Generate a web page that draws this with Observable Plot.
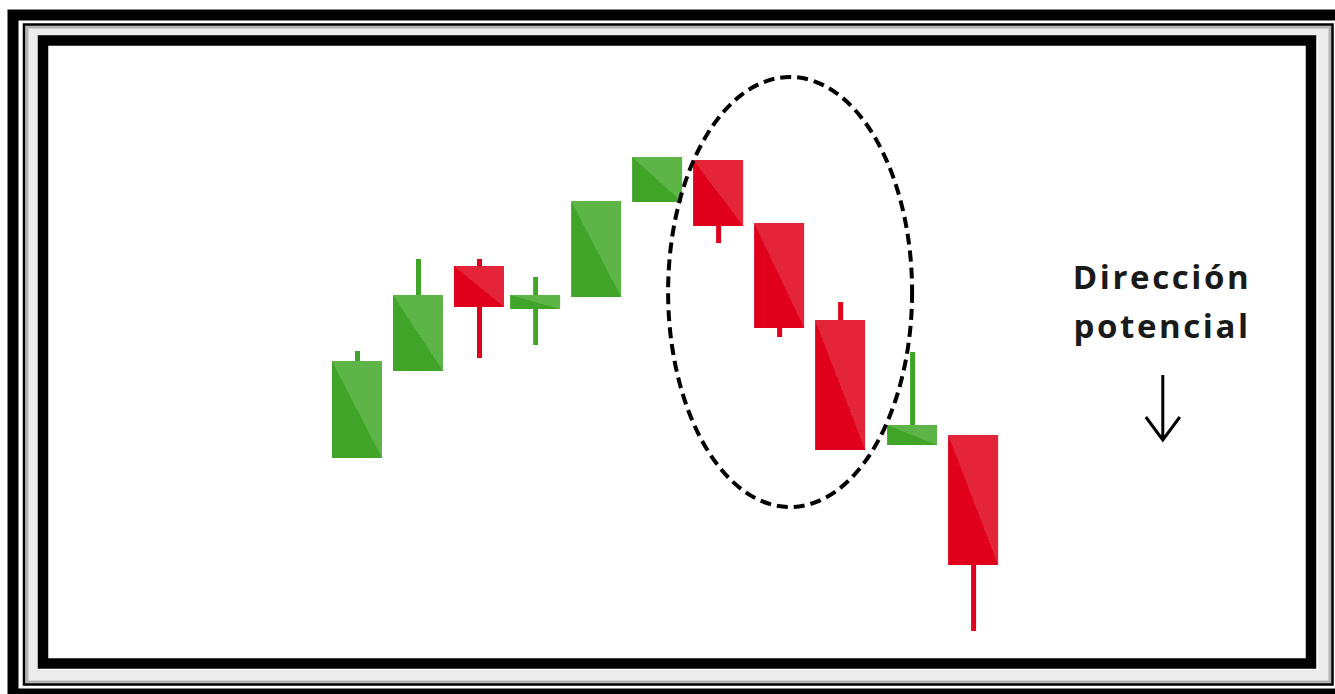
<!DOCTYPE html>
<html>
<head>
<meta charset="utf-8">
<script src="https://cdn.jsdelivr.net/npm/d3@7"></script>
<script src="https://cdn.jsdelivr.net/npm/@observablehq/plot@0.6"></script>
<style>
  html, body { margin: 0; padding: 0; background: #ffffff; }
  #chart svg { display: block; }
</style>
</head>
<body>
<div id="chart"></div>
<script>
// ---- data ----
const slots  = [0, 1, 2, 2.92, 3.92, 4.92, 5.92, 6.92, 7.92, 9.1, 10.1];
const opens  = [23.6, 32.3, 42.8, 38.5, 39.7, 49.2, 53.4, 47.1, 37.4, 24.9, 25.9];
const closes = [33.3, 39.9, 38.7, 39.9, 49.3, 53.7, 46.8, 36.6, 24.4, 26.9, 12.9];
const highs  = [34.3, 43.5, 43.5, 41.7, 49.3, 53.7, 53.4, 47.1, 39.2, 34.2, 25.9];
const lows   = [23.6, 32.3, 33.6, 34.9, 39.7, 49.2, 45.1, 35.7, 24.4, 24.9, 6.3];

const ringCenter = [7.1, 40.2];   // dashed ellipse centre (slot, price)
const ringRadius = [2.0, 21.5];   // dashed ellipse radii (slots, price)

const labelLines = ["Dirección", "potencial"];
const labelAt = [13.19, 44.1];
const arrowFrom = [13.21, 31.9];
const arrowTo = [13.21, 25.4];

// ---- build table ----
const candles = slots.map((x, i) => ({
  x, open: opens[i], close: closes[i], high: highs[i], low: lows[i],
  up: closes[i] >= opens[i]
}));
const ups = candles.filter(d => d.up);
const downs = candles.filter(d => !d.up);

const W = 1335, H = 694;
const half = 0.41;

const GREEN_DARK = "#40a428", GREEN_LIGHT = "#5db447";
const RED_DARK = "#e0001b", RED_LIGHT = "#e42439";

function ellipseMark(index, scales) {
  const {x, y} = scales;
  const cx = x(ringCenter[0]), cy = y(ringCenter[1]);
  const rx = Math.abs(x(ringCenter[0] + ringRadius[0]) - cx);
  const ry = Math.abs(y(ringCenter[1] + ringRadius[1]) - cy);
  const el = document.createElementNS("http://www.w3.org/2000/svg", "ellipse");
  el.setAttribute("cx", cx); el.setAttribute("cy", cy);
  el.setAttribute("rx", rx); el.setAttribute("ry", ry);
  el.setAttribute("fill", "none");
  el.setAttribute("stroke", "#000");
  el.setAttribute("stroke-width", 4);
  el.setAttribute("stroke-dasharray", "11 6");
  return el;
}

function arrowMark(index, scales) {
  const {x, y} = scales;
  const x1 = x(arrowFrom[0]), y1 = y(arrowFrom[1]);
  const x2 = x(arrowTo[0]), y2 = y(arrowTo[1]);
  const p = document.createElementNS("http://www.w3.org/2000/svg", "path");
  p.setAttribute("d", `M${x1},${y1}L${x2},${y2}M${x2 - 17},${y2 - 23}L${x2},${y2}L${x2 + 17},${y2 - 23}`);
  p.setAttribute("fill", "none");
  p.setAttribute("stroke", "#000");
  p.setAttribute("stroke-width", 3);
  p.setAttribute("stroke-linejoin", "miter");
  return p;
}

const chart = Plot.plot({
  width: W,
  height: H,
  margin: 0,
  x: {domain: [-357 / 61, (W - 357) / 61], axis: null},
  y: {domain: [0, 69.4], axis: null},
  style: {background: "#ffffff", overflow: "visible"},
  marks: [
    // decorative frames
    Plot.frame({stroke: "#000", strokeWidth: 11, insetLeft: 12.5, insetTop: 14.5, insetRight: -5.5, insetBottom: 0.5}),
    Plot.frame({stroke: "#ececec", strokeWidth: 12, insetLeft: 31, insetTop: 30, insetRight: 11.5, insetBottom: 18.5}),
    Plot.frame({stroke: "#b4b4b4", strokeWidth: 3, insetLeft: 26.5, insetTop: 26.5, insetRight: 5.5, insetBottom: 12.5}),
    Plot.frame({stroke: "#000", strokeWidth: 2.5, insetLeft: 23.5, insetTop: 24, insetRight: 3, insetBottom: 10}),
    Plot.frame({stroke: "#000", strokeWidth: 10.5, insetLeft: 42.5, insetTop: 40, insetRight: 24.5, insetBottom: 31}),
    // wicks
    Plot.ruleX(ups, {x: "x", y1: "low", y2: "high", stroke: GREEN_DARK, strokeWidth: 5}),
    Plot.ruleX(downs, {x: "x", y1: "low", y2: "high", stroke: RED_DARK, strokeWidth: 5}),
    // bodies
    Plot.rect(ups, {x1: d => d.x - half, x2: d => d.x + half, y1: "open", y2: "close", fill: "url(#candleUp)"}),
    Plot.rect(downs, {x1: d => d.x - half, x2: d => d.x + half, y1: "open", y2: "close", fill: "url(#candleDown)"}),
    // dashed ring
    ellipseMark,
    // label and arrow
    Plot.text([labelLines.join("\n")], {
      x: labelAt[0], y: labelAt[1], text: d => d,
      lineAnchor: "top", textAnchor: "middle", lineHeight: 1.5,
      fontSize: 33, fontWeight: 700, fontFamily: "Open Sans", fill: "#1a1a1a"
    }),
    arrowMark
  ]
});

// letter spacing for the label
d3.select(chart).selectAll("text").style("letter-spacing", "2.6px");

// gradient definitions for two-tone bodies
const defs = d3.select(chart).insert("defs", ":first-child");
[["candleUp", GREEN_DARK, GREEN_LIGHT], ["candleDown", RED_DARK, RED_LIGHT]].forEach(([id, a, b]) => {
  const g = defs.append("linearGradient").attr("id", id)
    .attr("x1", 0).attr("y1", 1).attr("x2", 1).attr("y2", 0);
  g.append("stop").attr("offset", 0).attr("stop-color", a);
  g.append("stop").attr("offset", 0.5).attr("stop-color", a);
  g.append("stop").attr("offset", 0.5).attr("stop-color", b);
  g.append("stop").attr("offset", 1).attr("stop-color", b);
});

document.getElementById("chart").appendChild(chart);
</script>
</body>
</html>
